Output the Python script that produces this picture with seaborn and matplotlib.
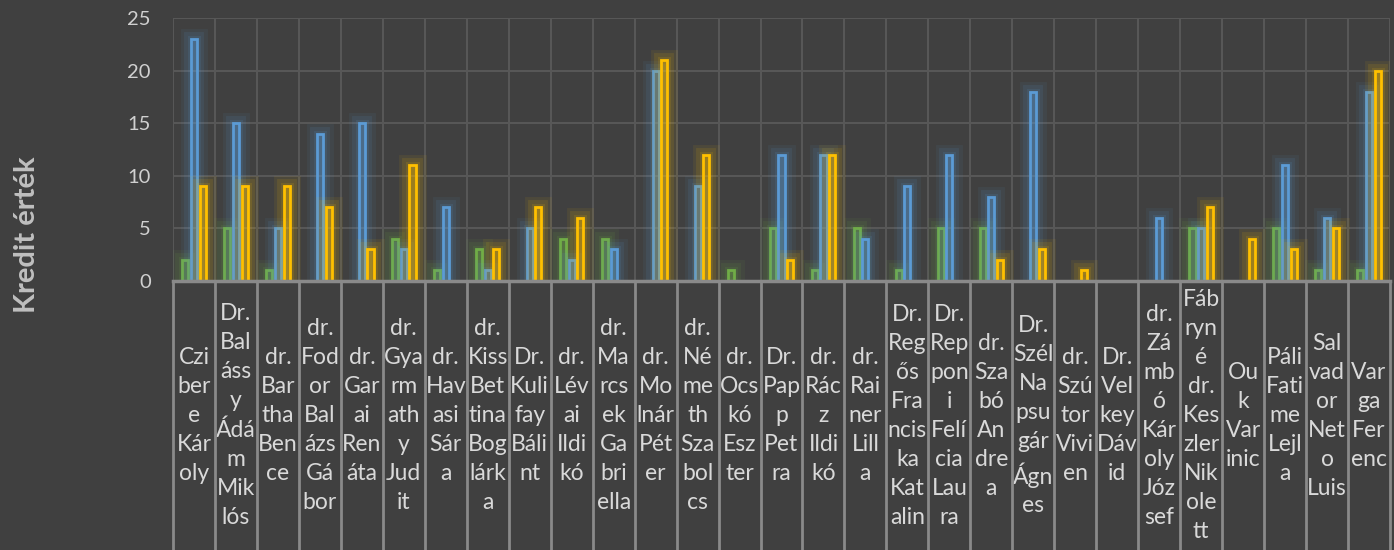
import pandas as pd
import matplotlib
matplotlib.use("Agg")
import matplotlib.pyplot as plt
import matplotlib.patheffects as pe
from matplotlib.colors import to_rgba
import seaborn as sns

# category labels, wrapped the way the original cells wrap them
names = [
    "Czi\nber\ne\nKár\noly", "Dr.\nBal\náss\ny\nÁdá\nm\nMik\nlós", "dr.\nBar\ntha\nBen\nce",
    "dr.\nFod\nor\nBal\názs\nGá\nbor", "dr.\nGar\nai\nRen\náta", "dr.\nGya\nrm\nath\ny\nJud\nit",
    "dr.\nHav\nasi\nSár\na", "dr.\nKiss\nBet\ntina\nBog\nlárk\na", "Dr.\nKuli\nfay\nBáli\nnt",
    "dr.\nLév\nai\nIldi\nkó", "dr.\nMa\nrcs\nek\nGa\nbri\nella", "dr.\nMo\nlnár\nPét\ner",
    "dr.\nNé\nme\nth\nSza\nbol\ncs", "dr.\nOcs\nkó\nEsz\nter", "Dr.\nPap\np\nPet\nra",
    "dr.\nRác\nz\nIldi\nkó", "dr.\nRai\nner\nLill\na", "Dr.\nReg\nős\nFra\nncis\nka\nKat\nalin",
    "Dr.\nRep\npon\ni\nFelí\ncia\nLau\nra", "dr.\nSza\nbó\nAn\ndre\na", "Dr.\nSzél\nNa\npsu\ngár\nÁgn\nes",
    "dr.\nSzú\ntor\nVivi\nen", "Dr.\nVel\nkey\nDáv\nid", "dr.\nZá\nmb\nó\nKár\noly\nJóz\nsef",
    "Fáb\nryn\né\ndr.\nKes\nzler\nNik\nole\ntt", "Ou\nk\nVar\ninic", "Páli\nFati\nme\nLejl\na",
    "Sal\nvad\nor\nNet\no\nLuis", "Var\nga\nFer\nenc",
]
green = [2, 5, 1, 0, 0, 4, 1, 3, 0, 4, 4, 0, 0, 1, 5, 1, 5, 1, 5, 5, 0, 0, 0, 0, 5, 0, 5, 1, 1]
blue = [23, 15, 5, 14, 15, 3, 7, 1, 5, 2, 3, 20, 9, 0, 12, 12, 4, 9, 12, 8, 18, 0, 0, 6, 5, 0, 11, 6, 18]
yellow = [9, 9, 9, 7, 3, 11, 0, 3, 7, 6, 0, 21, 12, 0, 2, 12, 0, 0, 0, 2, 3, 1, 0, 0, 7, 4, 3, 5, 20]
series = ["1. adatsor", "2. adatsor", "3. adatsor"]
colors = ["#70AD47", "#5B9BD5", "#FFC000"]

df = pd.DataFrame({
    "nev": names * 3,
    "sorozat": [s for s in series for _ in names],
    "ertek": green + blue + yellow,
})

bg = "#404040"
fig = plt.figure(figsize=(13.94, 5.5), dpi=100, facecolor=bg)
ax = fig.add_axes([173 / 1394, 269 / 550, 1217 / 1394, 263 / 550])
ax.set_facecolor(bg)

sns.barplot(data=df, x="nev", y="ertek", hue="sorozat", palette=colors,
            width=0.62, gap=0.3, legend=False, ax=ax, zorder=3)

# outline bars with a soft glow, like the Excel style
for i, bars in enumerate(ax.containers):
    c = colors[i]
    for p in bars:
        if p.get_height() == 0:
            p.set_visible(False)
            continue
        p.set_facecolor(to_rgba(c, 0.3))
        p.set_edgecolor(c)
        p.set_linewidth(2)
        p.set_path_effects([
            pe.SimpleLineShadow(offset=(0, 0), shadow_color=c, alpha=0.07, linewidth=15),
            pe.SimpleLineShadow(offset=(0, 0), shadow_color=c, alpha=0.10, linewidth=10),
            pe.SimpleLineShadow(offset=(0, 0), shadow_color=c, alpha=0.12, linewidth=5),
            pe.Normal(),
        ])

ax.set_ylim(0, 25)
ax.set_xlim(-0.5, len(names) - 0.5)
ax.set_yticks(range(0, 26, 5))
ax.grid(axis="y", color="#575757", linewidth=1.5, zorder=0)
ax.set_axisbelow(True)
for s in ax.spines.values():
    s.set_visible(False)

bounds = [i - 0.5 for i in range(len(names) + 1)]
ax.vlines(bounds, 0, 25, color="#575757", linewidth=1.5, zorder=1)
ax.vlines(bounds, -1.03, 0, color="#8a8a8a", linewidth=2,
          transform=ax.get_xaxis_transform(), clip_on=False, zorder=1)
ax.axhline(0, color="#8a8a8a", linewidth=2.5, zorder=4, clip_on=False)

ax.tick_params(axis="y", length=0, pad=16, labelsize=14.5, labelcolor="#D0D0D0")
ax.tick_params(axis="x", length=0, pad=97, labelsize=16.5, labelcolor="#D9D9D9")
for lbl in ax.get_yticklabels():
    lbl.set_fontfamily("Lato")
for lbl in ax.get_xticklabels():
    lbl.set_fontfamily("Lato")
    lbl.set_va("center")
    lbl.set_linespacing(1.47)
ax.set_xlabel("")
ax.set_ylabel("")

fig.text(27 / 1394, 1 - 235 / 550, "Kredit érték", rotation=90, ha="center", va="center",
         fontsize=21, fontweight="bold", color="#BFBFBF", family="Lato")

fig.savefig("out.png", dpi=100, facecolor=bg)
